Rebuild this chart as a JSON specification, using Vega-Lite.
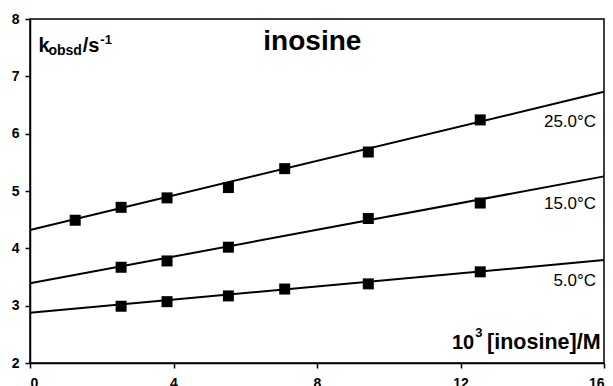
{
  "$schema": "https://vega.github.io/schema/vega-lite/v6.json",
  "width": 574,
  "height": 344,
  "autosize": "none",
  "padding": {"left": 30, "top": 19, "right": 9, "bottom": 23},
  "background": "white",
  "config": {
    "view": {"stroke": "black", "strokeWidth": 1.5},
    "font": "Liberation Sans",
    "axis": {
      "grid": false,
      "domainColor": "black",
      "domainWidth": 1.5,
      "tickColor": "black",
      "tickWidth": 1.5,
      "tickSize": 5,
      "labelFont": "Liberation Sans",
      "labelFontWeight": "bold",
      "labelFontSize": 14,
      "labelColor": "black",
      "title": null
    }
  },
  "datasets": {
    "points": [
      {"T": "25.0", "c": 1.26, "k": 4.49},
      {"T": "25.0", "c": 2.54, "k": 4.715},
      {"T": "25.0", "c": 3.82, "k": 4.88},
      {"T": "25.0", "c": 5.53, "k": 5.06},
      {"T": "25.0", "c": 7.1, "k": 5.39},
      {"T": "25.0", "c": 9.43, "k": 5.68},
      {"T": "25.0", "c": 12.55, "k": 6.24},
      {"T": "15.0", "c": 2.54, "k": 3.67},
      {"T": "15.0", "c": 3.82, "k": 3.78},
      {"T": "15.0", "c": 5.53, "k": 4.02},
      {"T": "15.0", "c": 9.43, "k": 4.52},
      {"T": "15.0", "c": 12.55, "k": 4.79},
      {"T": "5.0", "c": 2.54, "k": 2.99},
      {"T": "5.0", "c": 3.82, "k": 3.07},
      {"T": "5.0", "c": 5.53, "k": 3.17},
      {"T": "5.0", "c": 7.1, "k": 3.29},
      {"T": "5.0", "c": 9.43, "k": 3.38},
      {"T": "5.0", "c": 12.55, "k": 3.59}
    ],
    "fits": [
      {"T": "25.0", "c": 0, "k": 4.32},
      {"T": "25.0", "c": 16, "k": 6.73},
      {"T": "15.0", "c": 0, "k": 3.39},
      {"T": "15.0", "c": 16, "k": 5.255},
      {"T": "5.0", "c": 0, "k": 2.875},
      {"T": "5.0", "c": 16, "k": 3.795}
    ],
    "templabels": [
      {"c": 15.78, "k": 6.121, "text": "25.0°C"},
      {"c": 15.78, "k": 4.686, "text": "15.0°C"},
      {"c": 15.78, "k": 3.343, "text": "5.0°C"}
    ]
  },
  "layer": [
    {
      "data": {"name": "fits"},
      "mark": {"type": "line", "color": "black", "strokeWidth": 2},
      "encoding": {
        "x": {"field": "c", "type": "quantitative", "scale": {"domain": [0, 16], "nice": false},
              "axis": {"values": [0, 4, 8, 12, 16], "labelPadding": 8, "format": "d"}},
        "y": {"field": "k", "type": "quantitative", "scale": {"domain": [2, 8], "nice": false},
              "axis": {"values": [2, 3, 4, 5, 6, 7, 8], "labelPadding": 6, "format": "d"}},
        "detail": {"field": "T", "type": "nominal"}
      }
    },
    {
      "data": {"name": "points"},
      "mark": {"type": "point", "shape": "square", "filled": true, "color": "black", "opacity": 1, "size": 121},
      "encoding": {
        "x": {"field": "c", "type": "quantitative"},
        "y": {"field": "k", "type": "quantitative"}
      }
    },
    {
      "data": {"name": "templabels"},
      "mark": {"type": "text", "align": "right", "baseline": "alphabetic", "fontSize": 17, "font": "Liberation Sans", "color": "black"},
      "encoding": {
        "x": {"field": "c", "type": "quantitative"},
        "y": {"field": "k", "type": "quantitative"},
        "text": {"field": "text"}
      }
    },
    {
      "data": {"values": [{"c": 7.87, "k": 7.459, "text": "inosine"}]},
      "mark": {"type": "text", "align": "center", "baseline": "alphabetic", "fontSize": 28, "fontWeight": "bold", "font": "Liberation Sans", "color": "black"},
      "encoding": {
        "x": {"field": "c", "type": "quantitative"},
        "y": {"field": "k", "type": "quantitative"},
        "text": {"field": "text"}
      }
    },
    {
      "data": {"values": [{"c": 0.234, "k": 7.43, "text": "k"}, {"c": 1.468, "k": 7.43, "text": "/s"}]},
      "mark": {"type": "text", "align": "left", "baseline": "alphabetic", "fontSize": 20, "fontWeight": "bold", "font": "Liberation Sans", "color": "black"},
      "encoding": {
        "x": {"field": "c", "type": "quantitative"},
        "y": {"field": "k", "type": "quantitative"},
        "text": {"field": "text"}
      }
    },
    {
      "data": {"values": [{"c": 0.513, "k": 7.372, "text": "obsd"}]},
      "mark": {"type": "text", "align": "left", "baseline": "alphabetic", "fontSize": 14, "fontWeight": "bold", "font": "Liberation Sans", "color": "black"},
      "encoding": {
        "x": {"field": "c", "type": "quantitative"},
        "y": {"field": "k", "type": "quantitative"},
        "text": {"field": "text"}
      }
    },
    {
      "data": {"values": [{"c": 1.96, "k": 7.564, "text": "-1"}, {"c": 12.41, "k": 2.448, "text": "3"}]},
      "mark": {"type": "text", "align": "left", "baseline": "alphabetic", "fontSize": 13, "fontWeight": "bold", "font": "Liberation Sans", "color": "black"},
      "encoding": {
        "x": {"field": "c", "type": "quantitative"},
        "y": {"field": "k", "type": "quantitative"},
        "text": {"field": "text"}
      }
    },
    {
      "data": {"values": [{"c": 15.904, "k": 2.244, "text": "[inosine]/M"}]},
      "mark": {"type": "text", "align": "right", "baseline": "alphabetic", "fontSize": 21.5, "fontWeight": "bold", "font": "Liberation Sans", "color": "black"},
      "encoding": {
        "x": {"field": "c", "type": "quantitative"},
        "y": {"field": "k", "type": "quantitative"},
        "text": {"field": "text"}
      }
    },
    {
      "data": {"values": [{"c": 12.38, "k": 2.244, "text": "10"}]},
      "mark": {"type": "text", "align": "right", "baseline": "alphabetic", "fontSize": 20, "fontWeight": "bold", "font": "Liberation Sans", "color": "black"},
      "encoding": {
        "x": {"field": "c", "type": "quantitative"},
        "y": {"field": "k", "type": "quantitative"},
        "text": {"field": "text"}
      }
    }
  ]
}
